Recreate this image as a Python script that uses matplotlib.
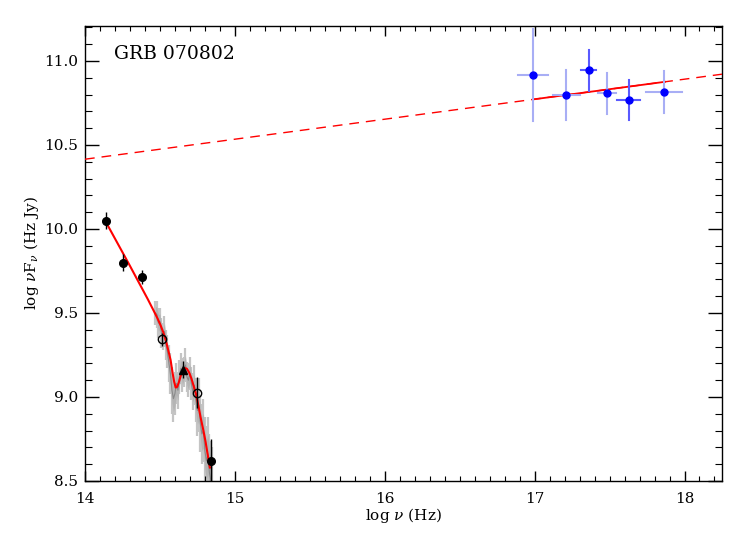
import numpy as np
import matplotlib
matplotlib.use("Agg")
import matplotlib.pyplot as plt
from matplotlib.ticker import MultipleLocator

plt.rcParams['font.family'] = ['DejaVu Serif']
plt.rcParams['mathtext.fontset'] = 'dejavuserif'

# optical / NIR photometry (log nu, log nuFnu, error)
opt_x = [14.137, 14.256, 14.378, 14.838]
opt_y = [10.048, 9.80, 9.714, 8.62]
opt_e = [0.05, 0.05, 0.04, 0.13]

open_x = [14.516, 14.745]
open_y = [9.342, 9.026]
open_e = [0.04, 0.09]

tri_x = [14.656]
tri_y = [9.163]
tri_e = [0.05]

# optical spectrum (grey)
spec_x = [14.47, 14.48, 14.49, 14.50, 14.51, 14.52, 14.53, 14.54, 14.55, 14.56, 14.57,
          14.58, 14.59, 14.60, 14.61, 14.62, 14.63, 14.64, 14.65, 14.66, 14.67,
          14.68, 14.69, 14.70, 14.71, 14.72, 14.73, 14.74, 14.75, 14.76, 14.77,
          14.78, 14.79, 14.80, 14.81, 14.82, 14.83, 14.84, 14.85]
spec_y = [9.50, 9.49, 9.44, 9.45, 9.38, 9.36, 9.39, 9.31, 9.27, 9.20, 9.14,
          9.04, 8.99, 9.02, 9.08, 9.04, 9.12, 9.17, 9.13, 9.15, 9.19,
          9.12, 9.10, 9.14, 9.08, 9.03, 9.07, 8.98, 8.92, 8.95, 8.84,
          8.78, 8.80, 8.68, 8.62, 8.66, 8.55, 8.50, 8.45]
spec_e = [0.07, 0.08, 0.09, 0.08, 0.09, 0.08, 0.09, 0.09, 0.10, 0.11, 0.12,
          0.14, 0.14, 0.13, 0.12, 0.11, 0.10, 0.09, 0.10, 0.09, 0.10,
          0.09, 0.10, 0.10, 0.10, 0.11, 0.12, 0.13, 0.15, 0.16, 0.17,
          0.18, 0.19, 0.20, 0.21, 0.22, 0.23, 0.24, 0.25]

# optical model curve (red)
mod_x = [14.14, 14.30, 14.42, 14.46, 14.485, 14.505, 14.522, 14.538, 14.555, 14.571,
         14.585, 14.595, 14.605, 14.615, 14.627, 14.64, 14.652, 14.665, 14.68,
         14.695, 14.71, 14.725, 14.74, 14.755, 14.771, 14.79, 14.805, 14.833]
mod_y = [10.04, 9.78, 9.58, 9.51, 9.465, 9.425, 9.385, 9.34, 9.28, 9.22,
         9.14, 9.09, 9.056, 9.06, 9.09, 9.13, 9.16, 9.172, 9.168,
         9.145, 9.11, 9.065, 9.02, 8.955, 8.88, 8.80, 8.73, 8.58]

# X-ray spectrum
xr_x = [16.99, 17.21, 17.36, 17.48, 17.63, 17.86]
xr_y = [10.915, 10.80, 10.944, 10.81, 10.766, 10.815]
xr_xlo = [16.89, 17.12, 17.31, 17.42, 17.55, 17.745]
xr_xhi = [17.09, 17.30, 17.41, 17.54, 17.70, 17.98]
xr_ylo = [10.64, 10.65, 10.82, 10.686, 10.647, 10.69]
xr_yhi = [11.19, 10.946, 11.065, 10.927, 10.885, 10.94]
xr_dark = [False, False, True, False, True, False]

# X-ray power-law model: dashed extrapolation and solid fitted range
pl_x = [14.0, 18.25]
pl_y = [10.415, 10.921]
pl_fit_x = [16.99, 17.87]

fig = plt.figure(figsize=(7.47, 5.34), dpi=100)
ax = fig.add_axes([0.1138, 0.0993, 0.8527, 0.8527])

# grey spectrum
sx = np.array(spec_x)
sy = np.array(spec_y)
se = np.array(spec_e)
ax.vlines(sx, sy - se, sy + se, color='#c4c4c4', lw=1.6, zorder=1)
ax.fill_between(sx, sy - se * 0.55, sy + se * 0.55, color='#b4b4b4', lw=0, zorder=1)
ax.plot(sx, sy, color='#8a8a8a', lw=0.8, zorder=2)

# red model through optical data
ax.plot(mod_x, mod_y, color='red', lw=1.5, zorder=3)

# optical photometry
ax.errorbar(opt_x, opt_y, yerr=opt_e, fmt='o', color='black', ms=5.5,
            elinewidth=1, capsize=0, zorder=5)
ax.errorbar(open_x, open_y, yerr=open_e, fmt='o', mfc='none', mec='black',
            color='black', ms=6, elinewidth=1, capsize=0, zorder=5)
ax.errorbar(tri_x, tri_y, yerr=tri_e, fmt='^', color='black', ms=6,
            elinewidth=1, capsize=0, zorder=5)

# X-ray power law
slope = (pl_y[1] - pl_y[0]) / (pl_x[1] - pl_x[0])
ax.plot(pl_x, pl_y, color='red', lw=1, ls=(0, (7, 5)), zorder=3)
ax.plot(pl_fit_x, [pl_y[0] + slope * (v - pl_x[0]) for v in pl_fit_x],
        color='red', lw=1.3, zorder=3)

# X-ray points
for i in range(len(xr_x)):
    c = '#5a5aff' if xr_dark[i] else '#a8aef5'
    ax.plot([xr_xlo[i], xr_xhi[i]], [xr_y[i], xr_y[i]], color=c, lw=1.5, zorder=4)
    ax.plot([xr_x[i], xr_x[i]], [xr_ylo[i], xr_yhi[i]], color=c, lw=1.5, zorder=4)
ax.plot(xr_x, xr_y, 'o', color='#0000ff', ms=5, zorder=6)

ax.text(0.045, 0.937, 'GRB 070802', transform=ax.transAxes, fontsize=13.5,
        va='center', ha='left')

ax.set_xlim(14, 18.25)
ax.set_ylim(8.5, 11.21)
ax.xaxis.set_major_locator(MultipleLocator(1))
ax.xaxis.set_minor_locator(MultipleLocator(0.1))
ax.yaxis.set_major_locator(MultipleLocator(0.5))
ax.yaxis.set_minor_locator(MultipleLocator(0.1))
ax.xaxis.set_major_formatter(plt.FuncFormatter(lambda v, p: '%d' % round(v)))
ax.yaxis.set_major_formatter(plt.FuncFormatter(lambda v, p: '%.1f' % v))
ax.tick_params(axis='both', which='both', direction='in', top=True, right=True,
               labelsize=11)
ax.tick_params(axis='x', which='major', length=7, width=1, pad=8)
ax.tick_params(axis='x', which='minor', length=3.5, width=0.8)
ax.tick_params(axis='y', which='major', length=10, width=1, pad=5)
ax.tick_params(axis='y', which='minor', length=5, width=0.8)
for s in ax.spines.values():
    s.set_linewidth(1)

ax.set_xlabel(r'log $\nu$ (Hz)', fontsize=11, labelpad=0)
ax.set_ylabel(r'log $\nu$F$_\nu$ (Hz Jy)', fontsize=11, labelpad=2)

fig.savefig('out.png', dpi=100)
